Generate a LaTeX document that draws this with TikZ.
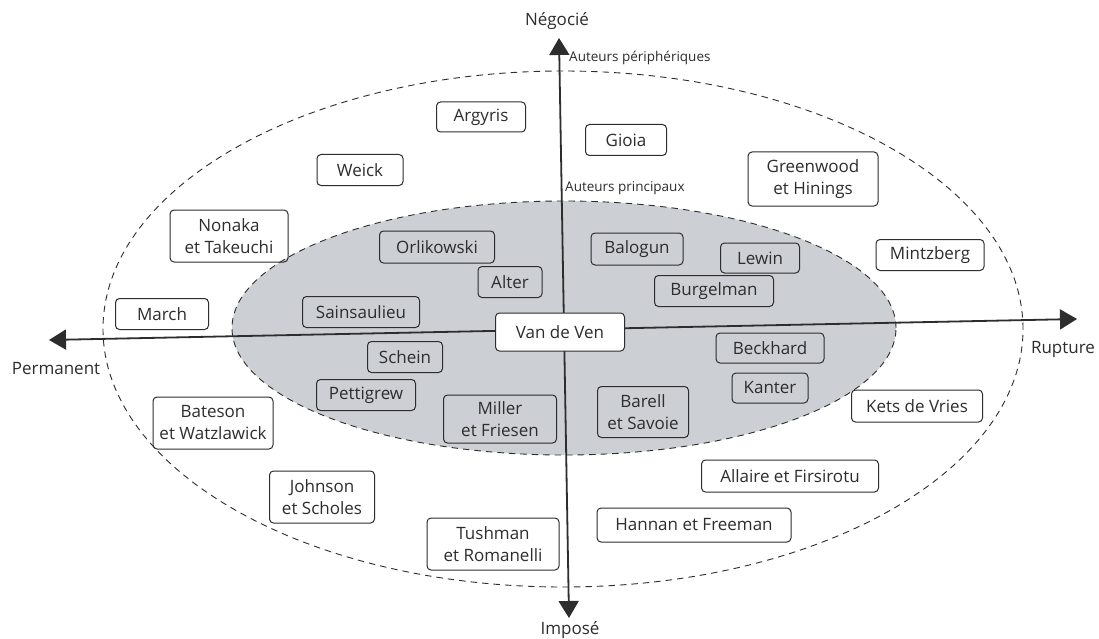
\documentclass[tikz,border=0pt]{standalone}
\usepackage{fontspec}
\setmainfont{Open Sans}
\usetikzlibrary{arrows.meta}
\definecolor{ink}{RGB}{45,45,45}
\definecolor{zone}{RGB}{204,207,211}
\begin{document}
\begin{tikzpicture}[x=1pt,y=-1pt,
  box/.style={draw=ink, line width=1pt, rounded corners=4pt, inner sep=0pt,
    align=center, text=ink, font=\fontsize{17}{22}\selectfont},
  lbl/.style={text=ink, inner sep=0pt, font=\fontsize{17}{20}\selectfont},
  small/.style={text=ink, inner sep=0pt, anchor=west, font=\fontsize{13.5}{16}\selectfont},
  axis/.style={draw=ink, line width=1.8pt,
    {Triangle[length=17pt,width=20pt]}-{Triangle[length=17pt,width=20pt]}},
  zonedash/.style={draw=ink, line width=0.9pt, dash pattern=on 6.5pt off 5pt}]
\useasboundingbox (0,0) rectangle (1099,639);
\fill[white] (0,0) rectangle (1099,639);
% zones
\draw[zonedash] (563,329) ellipse [x radius=460pt, y radius=258pt];
\draw[zonedash, fill=zone] (564,328) ellipse [x radius=332pt, y radius=127pt];
% axes
\coordinate (L) at (49,340);
\coordinate (R) at (1077,319);
\coordinate (T) at (559,38);
\coordinate (B) at (569,618);
\draw[axis] (L) -- (R);
\draw[axis] (B) -- (T);
% axis labels
\node[lbl] (neg) at (557,21) {Négocié};
\node[lbl] (imp) at (570,630) {Imposé};
\node[lbl] (perm) at (56,369) {Permanent};
\node[lbl] (rup) at (1063,349) {Rupture};
\node[small] (peri) at (569,58) {Auteurs périphériques};
\node[small] (prin) at (565,188) {Auteurs principaux};
% outer authors
\node[box, minimum width=89pt, minimum height=30pt] (argyris) at (481,117) {Argyris};
\node[box, minimum width=81pt, minimum height=31pt] (gioia) at (626,140) {Gioia};
\node[box, minimum width=86pt, minimum height=31pt] (weick) at (360,170) {Weick};
\node[box, minimum width=130pt, minimum height=54pt] (greenwood) at (813,179) {Greenwood\\et Hinings};
\node[box, minimum width=118pt, minimum height=52pt] (nonaka) at (229,236) {Nonaka\\et Takeuchi};
\node[box, minimum width=108pt, minimum height=31pt] (mintzberg) at (930,255) {Mintzberg};
\node[box, minimum width=93pt, minimum height=31pt] (march) at (162,314) {March};
\node[box, minimum width=131pt, minimum height=32pt] (kets) at (917,406) {Kets de Vries};
\node[box, minimum width=120pt, minimum height=52pt] (bateson) at (213,423) {Bateson\\et Watzlawick};
\node[box, minimum width=105pt, minimum height=52pt] (johnson) at (322,497) {Johnson\\et Scholes};
\node[box, minimum width=177pt, minimum height=32pt] (allaire) at (790,476) {Allaire et Firsirotu};
\node[box, minimum width=132pt, minimum height=52pt] (tushman) at (493,544) {Tushman\\et Romanelli};
\node[box, minimum width=194pt, minimum height=34pt] (hannan) at (694,525) {Hannan et Freeman};
% inner authors
\node[box, minimum width=115pt, minimum height=32pt] (orlikowski) at (437,247) {Orlikowski};
\node[box, minimum width=64pt, minimum height=31pt] (alter) at (510,282) {Alter};
\node[box, minimum width=117pt, minimum height=31pt] (sainsaulieu) at (361,312) {Sainsaulieu};
\node[box, minimum width=92pt, minimum height=32pt] (balogun) at (637,249) {Balogun};
\node[box, minimum width=79pt, minimum height=30pt] (lewin) at (760,258) {Lewin};
\node[box, minimum width=119pt, minimum height=31pt] (burgelman) at (714,291) {Burgelman};
\node[box, minimum width=75pt, minimum height=31pt] (schein) at (405,357) {Schein};
\node[box, minimum width=99pt, minimum height=31pt] (pettigrew) at (366,395) {Pettigrew};
\node[box, minimum width=113pt, minimum height=48pt] (miller) at (500,419) {Miller\\et Friesen};
\node[box, minimum width=91pt, minimum height=51pt] (barell) at (643,412) {Barell\\et Savoie};
\node[box, minimum width=108pt, minimum height=30pt] (beckhard) at (770,348) {Beckhard};
\node[box, minimum width=76pt, minimum height=30pt] (kanter) at (770,388) {Kanter};
\node[box, fill=white, minimum width=129pt, minimum height=38pt] (vandeven) at (560,332) {Van de Ven};
\end{tikzpicture}
\end{document}
